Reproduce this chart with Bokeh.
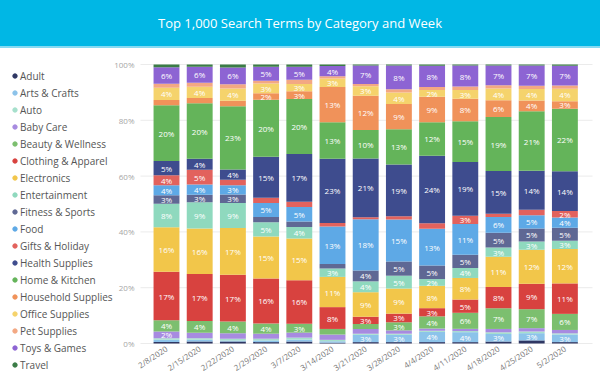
import numpy as np
from bokeh.plotting import figure
from bokeh.models import ColumnDataSource, Range1d, Legend, LegendItem, Div
from bokeh.layouts import column
from bokeh.core.properties import value
from bokeh.embed import file_html
from bokeh.resources import INLINE

title_text = "Top 1,000 Search Terms by Category and Week"

weeks = ["2/8/2020", "2/15/2020", "2/22/2020", "2/29/2020", "3/7/2020", "3/14/2020",
         "3/21/2020", "3/28/2020", "4/4/2020", "4/11/2020", "4/18/2020", "4/25/2020",
         "5/2/2020"]

categories = ["Adult", "Arts & Crafts", "Auto", "Baby Care", "Beauty & Wellness",
              "Clothing & Apparel", "Electronics", "Entertainment", "Fitness & Sports",
              "Food", "Gifts & Holiday", "Health Supplies", "Home & Kitchen",
              "Household Supplies", "Office Supplies", "Pet Supplies", "Toys & Games",
              "Travel"]

colors = ["#2f3763", "#8cc3ea", "#a6e0cc", "#a78be0", "#7cbf6f", "#d8423f",
          "#f2c64a", "#8fd9be", "#5f6894", "#5ea9e6", "#e2625d", "#3e4c8e",
          "#64b45a", "#f0925a", "#f5d36c", "#f3a883", "#8d64d3", "#3b7c46"]

y_ticks = [0, 0.2, 0.4, 0.6, 0.8, 1.0]
y_tick_labels = ["0%", "20%", "40%", "60%", "80%", "100%"]

# share of top search terms (%) per week, bottom to top of each stack
adult         = [0.5, 0.7, 0.7, 0.5, 0.7, 0.3, 0.5, 0.5, 0.5, 0.5, 0.7, 1.1, 0.5]
arts_crafts   = [0.8, 0.6, 0.4, 0.6, 0.7, 0.5, 2.6, 2.6, 3.6, 3.6, 2.7, 2.6, 2.7]
auto          = [0.6, 0.6, 0.6, 0.6, 0.7, 0.5, 0.4, 0.4, 0.4, 0.4, 0.6, 0.6, 0.4]
baby_care     = [2.4, 1.9, 2.0, 1.8, 1.8, 1.9, 1.7, 1.2, 0.8, 0.8, 1.2, 1.2, 1.2]
beauty        = [4.0, 4.2, 4.2, 3.6, 3.2, 2.0, 1.8, 2.9, 4.3, 5.8, 7.4, 6.8, 5.7]
clothing      = [17.4, 16.7, 16.7, 16.1, 15.6, 7.8, 2.6, 3.1, 2.9, 4.8, 7.6, 9.1, 10.8]
electronics   = [16.0, 16.2, 16.7, 14.9, 14.9, 10.8, 8.8, 9.0, 7.9, 7.8, 10.8, 12.2, 12.2]
entertainment = [8.4, 9.3, 9.0, 5.1, 4.2, 3.0, 3.9, 4.6, 2.4, 3.6, 3.3, 3.0, 2.9]
fitness       = [3.0, 2.7, 3.0, 1.9, 1.9, 1.6, 3.9, 5.1, 4.8, 4.8, 5.3, 4.6, 4.6]
food          = [3.6, 3.6, 3.3, 5.0, 5.2, 13.4, 18.4, 15.0, 13.0, 11.1, 5.6, 4.8, 3.7]
gifts         = [3.6, 5.3, 2.0, 1.8, 1.9, 1.3, 0.7, 1.2, 1.9, 3.0, 1.2, 1.9, 2.3]
health        = [5.1, 3.9, 3.6, 14.6, 17.1, 22.9, 21.1, 18.6, 23.9, 19.4, 15.2, 14.0, 14.1]
home_kitchen  = [20.0, 19.7, 22.7, 20.3, 19.7, 13.1, 10.2, 12.6, 11.9, 14.8, 19.3, 21.3, 22.1]
household     = [1.9, 1.9, 1.9, 2.4, 2.8, 12.6, 12.3, 9.0, 9.0, 8.1, 6.0, 3.9, 2.7]
office        = [4.4, 4.0, 4.4, 3.4, 2.6, 3.0, 3.4, 4.2, 2.4, 3.2, 4.2, 4.1, 4.4]
pet           = [1.4, 1.4, 1.5, 1.0, 1.5, 0.8, 0.8, 1.1, 1.0, 1.2, 1.2, 1.2, 1.2]
toys_games    = [5.9, 5.7, 6.0, 5.0, 4.7, 3.7, 6.6, 8.5, 7.6, 7.6, 7.0, 7.2, 7.0]
travel        = [1.0, 0.8, 1.1, 0.8, 0.8, 0.5, 0.4, 0.4, 0.4, 0.4, 0.4, 0.4, 0.4]

series = [adult, arts_crafts, auto, baby_care, beauty, clothing, electronics,
          entertainment, fitness, food, gifts, health, home_kitchen, household,
          office, pet, toys_games, travel]

vals = np.array(series, dtype=float)
shares = vals / vals.sum(axis=0)
xs = np.arange(len(weeks))

data = {"x": xs, "week": weeks}
for cat, r in zip(categories, shares):
    data[cat] = r
source = ColumnDataSource(data)

FONT = "Open Sans"
H = 327
PX = 33.2          # pixels per week slot
X0 = 166.0         # pixel position of the first week
PY = 279.0         # pixels per 100 %
Y0 = 295.0         # pixel row of 0 % (from top of figure)

x_range = Range1d(-X0 / PX, (600 - X0) / PX)
y_range = Range1d(-(H - Y0) / PY, Y0 / PY)

p = figure(x_range=x_range, y_range=y_range, width=600, height=H,
           output_backend="svg", toolbar_location=None,
           x_axis_location=None, y_axis_location=None,
           min_border_left=0, min_border_right=0, min_border_top=0, min_border_bottom=0)
p.xgrid.grid_line_color = None
p.ygrid.grid_line_color = None
p.outline_line_color = None
p.background_fill_color = "white"
p.border_fill_color = "white"

# horizontal gridlines across the plotting area
gx0 = (140 - X0) / PX
gx1 = (592 - X0) / PX
p.segment(x0=[gx0] * len(y_ticks), x1=[gx1] * len(y_ticks), y0=y_ticks, y1=y_ticks,
          line_color="#ebebeb", line_width=1)

# y tick labels
p.text(x=[(134 - X0) / PX] * len(y_ticks), y=y_ticks, text=y_tick_labels,
       text_color="#a6a6a6", text_font=value(FONT), text_font_size="8px",
       text_align="right", text_baseline="middle")

# stacked bars
p.vbar_stack(categories, x="x", width=0.78, color=colors, line_color=None, source=source)

# segment labels
lx, ly, lt = [], [], []
cum = np.zeros(len(weeks))
for r in shares:
    for i in range(len(weeks)):
        if r[i] >= 0.022:
            lx.append(xs[i])
            ly.append(cum[i] + r[i] / 2)
            lt.append(f"{int(round(r[i] * 100))}%")
    cum = cum + r
p.text(x=lx, y=ly, text=lt, text_color="white", text_font=value(FONT),
       text_font_size="8px", text_align="center", text_baseline="middle")

# week labels (angled)
p.text(x=xs, y=[-4 / PY] * len(weeks), text=weeks, angle=0.58,
       text_color="#7a7a7a", text_font=value(FONT), text_font_size="8px",
       text_align="right", text_baseline="middle")

# legend with circle markers
items = []
for cat, col in zip(categories, colors):
    rr = p.scatter(x=[-100], y=[-100], marker="circle", size=5, color=col)
    items.append(LegendItem(label=cat, renderers=[rr]))
legend = Legend(items=items, location=(9, 2), orientation="vertical",
                border_line_color=None, background_fill_alpha=0,
                label_text_font=FONT, label_text_font_size="10px", label_text_color="#555555",
                glyph_width=11, glyph_height=17, label_height=17, spacing=0, padding=0,
                margin=0, label_standoff=0)
p.add_layout(legend, "center")

div = Div(text=f'<div style="width:600px;height:46px;line-height:46px;text-align:center;'
               f'color:white;font-family:\'Open Sans\';font-size:13px;">{title_text}</div>',
          width=600, height=48, margin=0,
          styles={"background-color": "#00b7e5", "border-bottom": "2px solid #86daf2",
                  "box-sizing": "border-box"})

layout = column(div, p, spacing=0)
open("out.html", "w").write(file_html(layout, INLINE))
